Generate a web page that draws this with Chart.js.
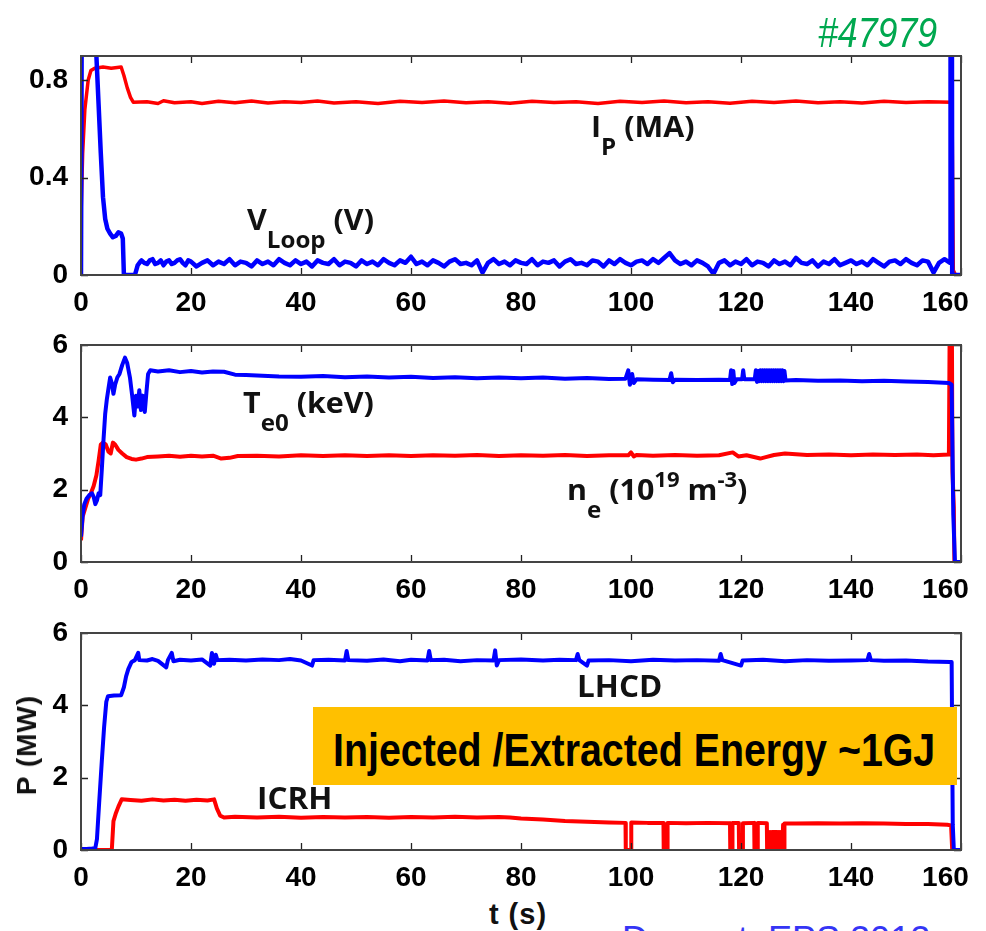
<!DOCTYPE html>
<html><head><meta charset="utf-8">
<script src="https://cdn.jsdelivr.net/npm/chart.js@4.4.1/dist/chart.umd.min.js"></script>
<style>
html,body{margin:0;padding:0;background:#fff;width:986px;height:931px;overflow:hidden;position:relative}
canvas{position:absolute;left:0}
.ann{position:absolute;font-family:'Open Sans',sans-serif;font-weight:700;font-size:29px;line-height:29px;white-space:nowrap;color:#111;transform:scaleX(1.05);transform-origin:0 0}
.sub{font-size:23px;position:relative;top:18px}
.sup{font-size:21px;position:relative;top:-13px}
.box{position:absolute;left:313px;top:707px;width:644px;height:78px;background:#ffc000}
.boxtxt{position:absolute;left:333px;top:727px;font-family:'Liberation Sans',Arial,sans-serif;font-weight:700;font-size:46px;line-height:46px;white-space:nowrap;color:#000;transform:scaleX(0.855);transform-origin:0 0}
.shot{position:absolute;left:818px;top:12px;font-family:'Liberation Sans',Arial,sans-serif;font-style:italic;font-size:42px;line-height:42px;color:#00a84f;transform:scaleX(0.85);transform-origin:0 0;white-space:nowrap}
.ylab{position:absolute;left:27px;top:745px;font-family:'Liberation Sans',Arial,sans-serif;font-weight:700;font-size:28px;line-height:28px;letter-spacing:1px;white-space:nowrap;transform:translate(-50%,-50%) rotate(-90deg);color:#111}
.xlab{position:absolute;left:418px;width:200px;text-align:center;top:900px;font-family:'Liberation Sans',Arial,sans-serif;font-weight:700;font-size:29px;line-height:29px;letter-spacing:1px;color:#111}
.ref{position:absolute;left:622px;top:922px;font-family:'Liberation Sans',Arial,sans-serif;font-size:36px;line-height:36px;color:#3535f5;white-space:nowrap}
</style></head>
<body>
<canvas id="c1" width="986" height="320" style="top:0"></canvas>
<canvas id="c2" width="986" height="290" style="top:320px"></canvas>
<canvas id="c3" width="986" height="280" style="top:610px"></canvas>

<div class="shot">#47979</div>
<div class="ann" style="left:591px;top:111px">I<span class="sub">P</span> (MA)</div>
<div class="ann" style="left:247px;top:204px">V<span class="sub">Loop</span> (V)</div>
<div class="ann" style="left:243px;top:387px">T<span class="sub">e0</span> (keV)</div>
<div class="ann" style="left:567px;top:474px">n<span class="sub">e</span> (10<span class="sup">19</span> m<span class="sup">-3</span>)</div>
<div class="ann" style="left:577px;top:671px;font-size:30px;line-height:30px">LHCD</div>
<div class="ann" style="left:257px;top:783px;font-size:30px;line-height:30px">ICRH</div>
<div class="box"></div>
<div class="boxtxt">Injected /Extracted Energy ~1GJ</div>
<div class="ylab">P (MW)</div>
<div class="xlab">t (s)</div>
<div class="ref">Dumont, EPS 2012</div>

<script>
// ---------- tick labels ----------
const xTicks = [0, 20, 40, 60, 80, 100, 120, 140, 160];
const yTicksTop = [0, 0.4, 0.8];
const yTicksMid = [0, 2, 4, 6];
const yTicksBot = [0, 2, 4, 6];

// ---------- panel 1: plasma current Ip (MA) and loop voltage (V) vs t (s) ----------
const ipMA = [[0,0.24],[0.3,0.5],[0.7,0.68],[1.3,0.8],[1.8,0.84],[2.5,0.85],[4,0.855],[5.5,0.85],[7.3,0.855],[7.8,0.82],[8.4,0.77],[9,0.73],[9.5,0.71],[12,0.712],[14,0.705],[15,0.716],[17,0.708],[20,0.712],[22,0.705],[25,0.714],[28,0.708],[31,0.715],[34,0.707],[37,0.712],[40,0.709],[43,0.715],[46,0.707],[50,0.712],[54,0.705],[58,0.714],[62,0.709],[66,0.715],[70,0.708],[74,0.712],[78,0.706],[82,0.714],[86,0.709],[90,0.712],[94,0.705],[98,0.714],[102,0.709],[106,0.715],[110,0.708],[114,0.712],[118,0.706],[122,0.714],[126,0.709],[130,0.715],[134,0.708],[138,0.712],[142,0.707],[146,0.714],[150,0.709],[154,0.712],[158.2,0.71],[158.4,0.6],[158.6,0.02],[159,0],[160,0]];

const vLoopV = [[0,0],[0.15,0],[0.25,2],[2.5,2],[2.8,0.9],[3.2,0.7],[3.6,0.5],[4.0,0.32],[4.4,0.23],[4.8,0.19],[5.3,0.17],[5.8,0.155],[6.3,0.16],[6.8,0.175],[7.3,0.17],[7.6,0.15],[7.8,0],[9.8,0],[10.3,0.04],[10.8,0.055],
[11,0.06],[11.5,0.05],[12,0.045],[12.5,0.06],[13,0.065],[13.5,0.045],[14,0.05],[14.5,0.06],[15,0.04],[15.5,0.055],[16,0.06],[16.5,0.045],[17,0.05],[17.5,0.06],[18,0.065],[18.5,0.05],[19,0.04],[19.5,0.06],[20,0.055],
[21,0.035],[22,0.05],[23,0.06],[24,0.04],[25,0.055],[26,0.045],[27,0.065],[28,0.04],[29,0.055],[30,0.05],
[31,0.035],[32,0.06],[33,0.045],[34,0.055],[35,0.04],[36,0.065],[37,0.05],[38,0.04],[39,0.06],[40,0.045],[41,0.055],[42,0.035],[43,0.06],[44,0.05],[45,0.045],[46,0.065],[47,0.04],[48,0.055],[49,0.05],[50,0.035],
[51,0.06],[52,0.045],[53,0.055],[54,0.04],[55,0.065],[56,0.05],[57,0.04],[58,0.06],[59,0.05],[60,0.075],[61,0.045],[62,0.055],[63,0.04],[64,0.06],[65,0.05],[66,0.035],[67,0.055],[68,0.065],[69,0.045],[70,0.05],
[71,0.04],[72,0.06],[73,0.01],[74,0.05],[75,0.065],[76,0.045],[77,0.055],[78,0.04],[79,0.06],[80,0.05],[81,0.045],[82,0.065],[83,0.04],[84,0.055],[85,0.05],[86,0.06],[87,0.035],[88,0.055],[89,0.065],[90,0.045],
[91,0.05],[92,0.04],[93,0.06],[94,0.055],[95,0.035],[96,0.06],[97,0.045],[98,0.065],[99,0.05],[100,0.04],[101,0.055],[102,0.06],[103,0.045],[104,0.065],[105,0.05],[106,0.07],[107,0.09],[108,0.06],[109,0.045],[110,0.055],
[111,0.04],[112,0.06],[113,0.05],[114,0.035],[115,0.005],[116,0.05],[117,0.06],[118,0.04],[119,0.055],[120,0.045],[121,0.065],[122,0.04],[123,0.055],[124,0.05],[125,0.035],[126,0.06],[127,0.045],[128,0.055],[129,0.04],[130,0.07],
[131,0.05],[132,0.045],[133,0.06],[134,0.035],[135,0.055],[136,0.045],[137,0.065],[138,0.04],[139,0.05],[140,0.06],[141,0.045],[142,0.055],[143,0.04],[144,0.065],[145,0.05],[146,0.035],[147,0.055],[148,0.06],[149,0.045],[150,0.065],
[151,0.05],[152,0.04],[153,0.06],[154,0.055],[155,0.01],[156,0.05],[157,0.065],[158,0.05],[158.1,2],[158.3,2],[158.4,0],[160,0]];

// ---------- panel 2: central Te (keV) and density (1e19 m^-3) ----------
const te0keV = [[0,0.7],[0.3,1.3],[0.6,1.6],[1.0,1.75],[1.5,1.85],[2.0,1.9],[2.3,1.8],[2.6,1.6],[2.9,1.7],[3.2,1.9],[3.5,1.85],[3.8,2.6],[4.1,3.4],[4.4,4.1],[4.7,4.5],[5.0,4.8],[5.3,5.1],[5.6,4.95],[5.9,4.65],[6.2,4.9],[6.6,5.1],[7.0,5.2],[7.5,5.45],[8.0,5.65],[8.4,5.5],[8.9,5.1],[9.3,4.6],[9.7,4.05],[10.0,4.6],[10.3,4.3],[10.6,4.75],[10.9,4.2],[11.2,4.6],[11.6,4.15],[11.9,4.7],[12.2,5.2],[12.6,5.3],[14,5.27],[16,5.3],[18,5.25],[20,5.28],[22,5.24],[24,5.27],[26,5.26],[28,5.18],[30,5.17],[33,5.15],[36,5.13],[40,5.12],[44,5.14],[48,5.11],[52,5.13],[56,5.1],[60,5.12],[64,5.09],[68,5.11],[72,5.08],[76,5.1],[80,5.08],[84,5.1],[88,5.07],[92,5.09],[96,5.06],[99,5.07],[99.5,5.3],[99.8,4.9],[100.2,5.2],[100.5,4.95],[101,5.05],[104,5.04],[107,5.03],[107.3,5.22],[107.6,4.97],[108,5.04],[112,5.03],[116,5.04],[118,5.03],[118.2,5.3],[118.4,4.92],[118.6,5.28],[118.8,4.95],[119.2,5.05],[120.2,5.05],[120.4,5.3],[120.6,5.05],[122.5,5.05],[122.7,5.3],[122.9,4.98],[123.1,5.28],[123.3,5.0],[123.5,5.3],[123.7,5.0],[123.9,5.3],[124.1,5.0],[124.3,5.3],[124.5,5.0],[124.7,5.3],[124.9,5.0],[125.1,5.3],[125.3,5.0],[125.5,5.3],[125.7,5.0],[125.9,5.3],[126.1,5.0],[126.3,5.3],[126.5,5.0],[126.7,5.3],[126.9,5.0],[127.1,5.3],[127.3,5.0],[127.5,5.3],[127.7,5.0],[127.9,5.28],[128.1,5.02],[130,5.03],[134,5.01],[138,5.02],[142,5.0],[146,5.01],[150,4.99],[154,4.98],[157.8,4.95],[158.3,4.9],[158.6,1.3],[158.9,0],[160,0]];

const neE19 = [[0,0.6],[0.3,1.25],[0.8,1.5],[1.3,1.75],[1.8,1.9],[2.3,2.1],[2.8,2.4],[3.2,2.8],[3.6,3.25],[4.0,3.3],[4.5,3.25],[5.0,3.05],[5.4,3.0],[5.8,3.3],[6.2,3.25],[6.8,3.1],[7.5,3.0],[8.3,2.9],[9.2,2.85],[10,2.83],[11,2.86],[12,2.9],[14,2.92],[16,2.94],[18,2.91],[20,2.94],[22,2.92],[24,2.94],[25.5,2.86],[27,2.88],[28.5,2.93],[32,2.94],[36,2.92],[40,2.95],[44,2.93],[48,2.95],[52,2.93],[56,2.95],[60,2.93],[64,2.95],[68,2.94],[72,2.96],[76,2.93],[80,2.95],[84,2.94],[88,2.96],[92,2.93],[96,2.95],[99.5,2.95],[100,3.03],[100.5,2.92],[101,2.96],[104,2.94],[108,2.96],[112,2.94],[116,2.95],[118.5,3.03],[119.5,2.92],[121,2.95],[123.5,2.86],[124.5,2.9],[126,2.96],[128,3.0],[132,2.96],[136,2.97],[140,2.95],[144,2.97],[148,2.96],[152,2.97],[155,2.95],[157.8,2.97],[158.0,8],[158.3,8],[158.45,2.5],[158.7,1.5],[158.8,0],[160,0]];

// ---------- panel 3: heating power P (MW) ----------
const lhcdMW = [[0,0.03],[1,0.03],[2,0.04],[2.6,0.05],[2.9,0.3],[3.3,1.3],[3.8,2.5],[4.2,3.4],[4.6,4.1],[4.9,4.25],[6,4.27],[7.3,4.28],[7.8,4.5],[8.2,4.8],[8.6,5.0],[9.2,5.2],[9.8,5.25],[10.4,5.45],[10.6,5.25],[12,5.24],[13,5.28],[14,5.23],[15.5,5.05],[15.8,5.25],[16.5,5.45],[16.8,5.22],[18,5.26],[20,5.24],[22,5.27],[23.5,5.1],[23.8,5.45],[24.2,5.15],[24.5,5.4],[24.8,5.25],[27,5.26],[30,5.24],[33,5.27],[36,5.25],[38,5.28],[40,5.24],[42,5.1],[42.3,5.25],[45,5.26],[48,5.24],[48.3,5.5],[48.6,5.25],[52,5.23],[55,5.27],[58,5.22],[60,5.26],[63,5.24],[63.3,5.5],[63.6,5.25],[66,5.26],[69,5.22],[72,5.25],[75,5.24],[75.3,5.52],[75.6,5.1],[76,5.25],[80,5.27],[84,5.24],[87,5.26],[90,5.25],[90.3,5.42],[90.6,5.25],[92,5.1],[92.3,5.24],[96,5.25],[100,5.22],[104,5.26],[108,5.24],[112,5.25],[116,5.23],[116.3,5.42],[116.6,5.25],[120,5.1],[120.3,5.24],[124,5.26],[128,5.22],[132,5.25],[136,5.23],[140,5.24],[143,5.25],[143.3,5.42],[143.6,5.25],[146,5.23],[150,5.24],[154,5.21],[158,5.2],[158.3,5.2],[158.5,0.7],[158.7,0],[160,0]];

const icrhMW = [[0,0],[5.6,0],[5.9,0.8],[6.3,1.0],[6.8,1.2],[7.4,1.4],[9,1.38],[11,1.36],[13,1.4],[15,1.37],[17,1.39],[19,1.36],[21,1.39],[23,1.37],[24.2,1.4],[24.7,1.15],[25.3,0.95],[26,0.9],[28,0.92],[32,0.9],[36,0.92],[40,0.89],[44,0.91],[48,0.9],[52,0.91],[56,0.89],[60,0.91],[64,0.9],[68,0.92],[72,0.9],[76,0.91],[78,0.9],[80,0.87],[84,0.84],[88,0.8],[92,0.78],[96,0.76],[99,0.75],[99.05,0],[100,0],[100.05,0.76],[103,0.75],[105.9,0.75],[105.95,0],[106.6,0],[106.65,0.75],[110,0.74],[114,0.75],[118,0.74],[118.05,0],[118.4,0],[118.45,0.75],[119.6,0.75],[119.65,0],[120.3,0],[120.35,0.74],[122.4,0.75],[122.45,0],[123,0],[123.05,0.75],[124.7,0.74],[124.75,0],[124.85,0.5],[124.95,0],[125.05,0.5],[125.15,0],[125.25,0.5],[125.35,0],[125.45,0.5],[125.55,0],[125.65,0.5],[125.75,0],[125.85,0.5],[125.95,0],[126.05,0.5],[126.15,0],[126.25,0.5],[126.35,0],[126.45,0.5],[126.55,0],[126.65,0.5],[126.75,0],[126.85,0.5],[126.95,0],[127.05,0.5],[127.15,0],[127.25,0.5],[127.35,0],[127.45,0.5],[127.55,0],[127.65,0.7],[127.75,0],[127.85,0],[127.9,0.73],[130,0.73],[134,0.74],[138,0.73],[142,0.74],[146,0.73],[150,0.72],[154,0.72],[157.5,0.7],[158.2,0.68],[158.4,0],[160,0]];

// ---------- styling / layout ----------
const BLUE = '#0000ff', RED = '#ff0000';
const tickFont = {family: "'Liberation Sans', Arial, sans-serif", size: 28, weight: 'bold'};

const framePlugin = {
  id: 'frame',
  afterDatasetsDraw(chart) {
    const {ctx, chartArea: a, scales} = chart;
    ctx.save();
    ctx.strokeStyle = '#222';
    ctx.lineWidth = 1.3;
    const L = 7;
    ctx.beginPath();
    scales.x.ticks.forEach(t => {
      const px = Math.round(scales.x.getPixelForValue(t.value)) + 0.5;
      ctx.moveTo(px, a.bottom); ctx.lineTo(px, a.bottom - L);
      ctx.moveTo(px, a.top); ctx.lineTo(px, a.top + L);
    });
    scales.y.ticks.forEach(t => {
      const py = Math.round(scales.y.getPixelForValue(t.value)) + 0.5;
      ctx.moveTo(a.left, py); ctx.lineTo(a.left + L, py);
      ctx.moveTo(a.right, py); ctx.lineTo(a.right - L, py);
    });
    ctx.stroke();
    ctx.strokeStyle = '#444';
    ctx.lineWidth = 2;
    ctx.strokeRect(a.left, a.top, a.right - a.left, a.bottom - a.top);
    ctx.restore();
  }
};

function makeChart(id, series, yMax, yTicks, padTop, xHeight) {
  return new Chart(document.getElementById(id), {
    type: 'line',
    data: {
      datasets: series.map(s => ({
        data: s.data, borderColor: s.color, backgroundColor: s.color,
        borderWidth: s.width, pointRadius: 0, tension: 0, fill: false,
        borderJoinStyle: 'round', borderCapStyle: 'butt'
      }))
    },
    options: {
      responsive: false, animation: false, devicePixelRatio: 1,
      layout: {padding: {left: 0, right: 25, top: padTop, bottom: 0}},
      plugins: {legend: {display: false}, tooltip: {enabled: false}},
      scales: {
        x: {
          type: 'linear', min: 0, max: 160,
          afterBuildTicks: s => { s.ticks = xTicks.map(v => ({value: v})); },
          afterFit: s => { s.height = xHeight; s.paddingRight = 10; s.paddingLeft = 10; },
          grid: {display: false}, border: {display: false},
          ticks: {font: tickFont, color: '#000', padding: 3, maxRotation: 0, autoSkip: false,
                  callback: v => v === 160 ? '160    ' : String(v)}
        },
        y: {
          type: 'linear', min: 0, max: yMax,
          afterBuildTicks: s => { s.ticks = yTicks.map(v => ({value: v})); },
          afterFit: s => { s.width = 81; },
          grid: {display: false}, border: {display: false},
          ticks: {font: tickFont, color: '#000', padding: 5, autoSkip: false,
                  callback: v => String(v)}
        }
      }
    },
    plugins: [framePlugin]
  });
}

makeChart('c1', [{data: vLoopV, color: BLUE, width: 4.5}, {data: ipMA, color: RED, width: 3.5}], 0.9, yTicksTop, 56, 45);
makeChart('c2', [{data: te0keV, color: BLUE, width: 4}, {data: neE19, color: RED, width: 4}], 6, yTicksMid, 25, 48);
makeChart('c3', [{data: lhcdMW, color: BLUE, width: 4}, {data: icrhMW, color: RED, width: 4}], 6, yTicksBot, 23, 40);
</script>
</body></html>
